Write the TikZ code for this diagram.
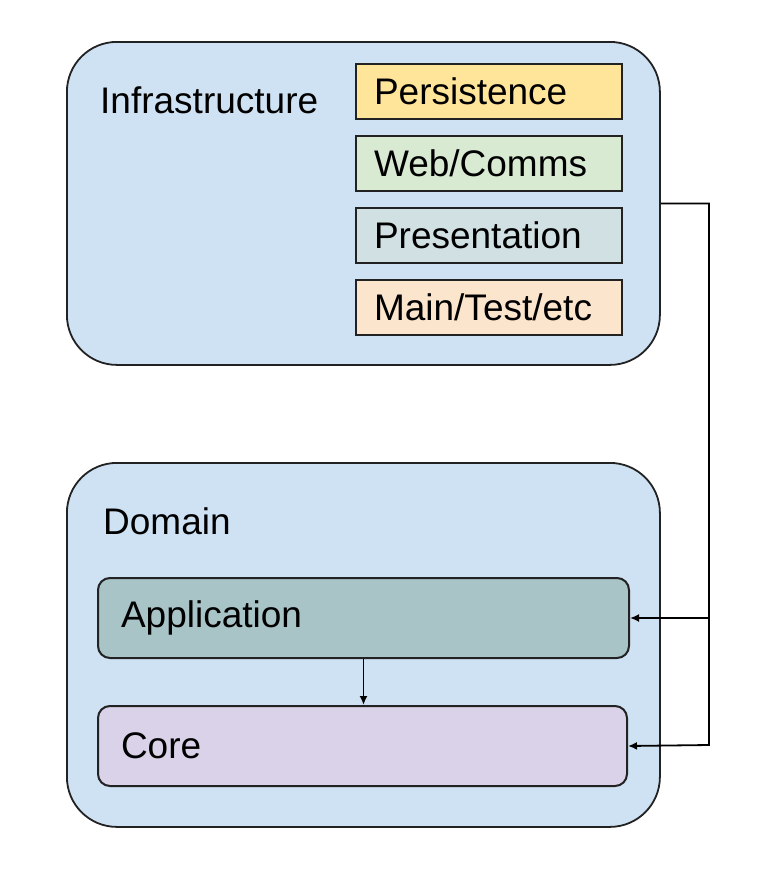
\documentclass[tikz,border=0pt]{standalone}
\usepackage{fontspec}
\setmainfont{Liberation Sans}
\usetikzlibrary{arrows.meta}
\definecolor{outerfill}{HTML}{CFE2F3}
\definecolor{persfill}{HTML}{FFE599}
\definecolor{webfill}{HTML}{D9EAD3}
\definecolor{presfill}{HTML}{D0E0E3}
\definecolor{mainfill}{HTML}{FCE5CD}
\definecolor{appfill}{HTML}{A8C4C7}
\definecolor{corefill}{HTML}{D9D2E9}
\definecolor{edge}{HTML}{222222}
\tikzset{
  bigbox/.style={draw=edge, line width=1.8pt, fill=outerfill, rounded corners=50pt, anchor=north west, inner sep=0pt},
  layer/.style={draw=edge, line width=2pt, anchor=north west, minimum height=55pt, inner xsep=18pt, text width=230pt, align=left, font=\fontsize{37}{42}\selectfont},
  dombox/.style={draw=edge, line width=2pt, anchor=north west, rounded corners=12pt, minimum height=80pt, inner xsep=23pt, align=left, font=\fontsize{37}{42}\selectfont},
  lbl/.style={anchor=west, inner sep=0pt, font=\fontsize{37}{42}\selectfont},
  conn/.style={draw=black, line width=1.8pt},
  tip/.style={-{Latex[length=9pt,width=8pt]}}
}
\begin{document}
\begin{tikzpicture}[x=1pt,y=-1pt]
\useasboundingbox (0,0) rectangle (756,878);
% Infrastructure
\node[bigbox, minimum width=593pt, minimum height=323pt] (infra) at (66,41) {};
\node[lbl] (infralbl) at (100,100) {Infrastructure};
\node[layer, fill=persfill] (pers) at (355,63) {Persistence};
\node[layer, fill=webfill] (web) at (355,135) {Web/Comms};
\node[layer, fill=presfill] (pres) at (355,207) {Presentation};
\node[layer, fill=mainfill] (mainb) at (355,279) {Main/Test/etc};
% Domain
\node[bigbox, minimum width=593pt, minimum height=364pt] (dom) at (66,462) {};
\node[lbl] (domlbl) at (103,521) {Domain};
\node[dombox, fill=appfill, text width=485pt] (app) at (97,577) {Application};
\node[dombox, fill=corefill, text width=483pt] (core) at (97,705) {Core};
% connectors
\coordinate (busB) at (709,745);
\draw[conn, tip] (infra.east) -| (busB) -- (core.east);
\draw[conn, tip] (app.east -| busB) -- (app.east);
\draw[conn, tip] (app.south) -- (app.south |- core.north);
\end{tikzpicture}
\end{document}
